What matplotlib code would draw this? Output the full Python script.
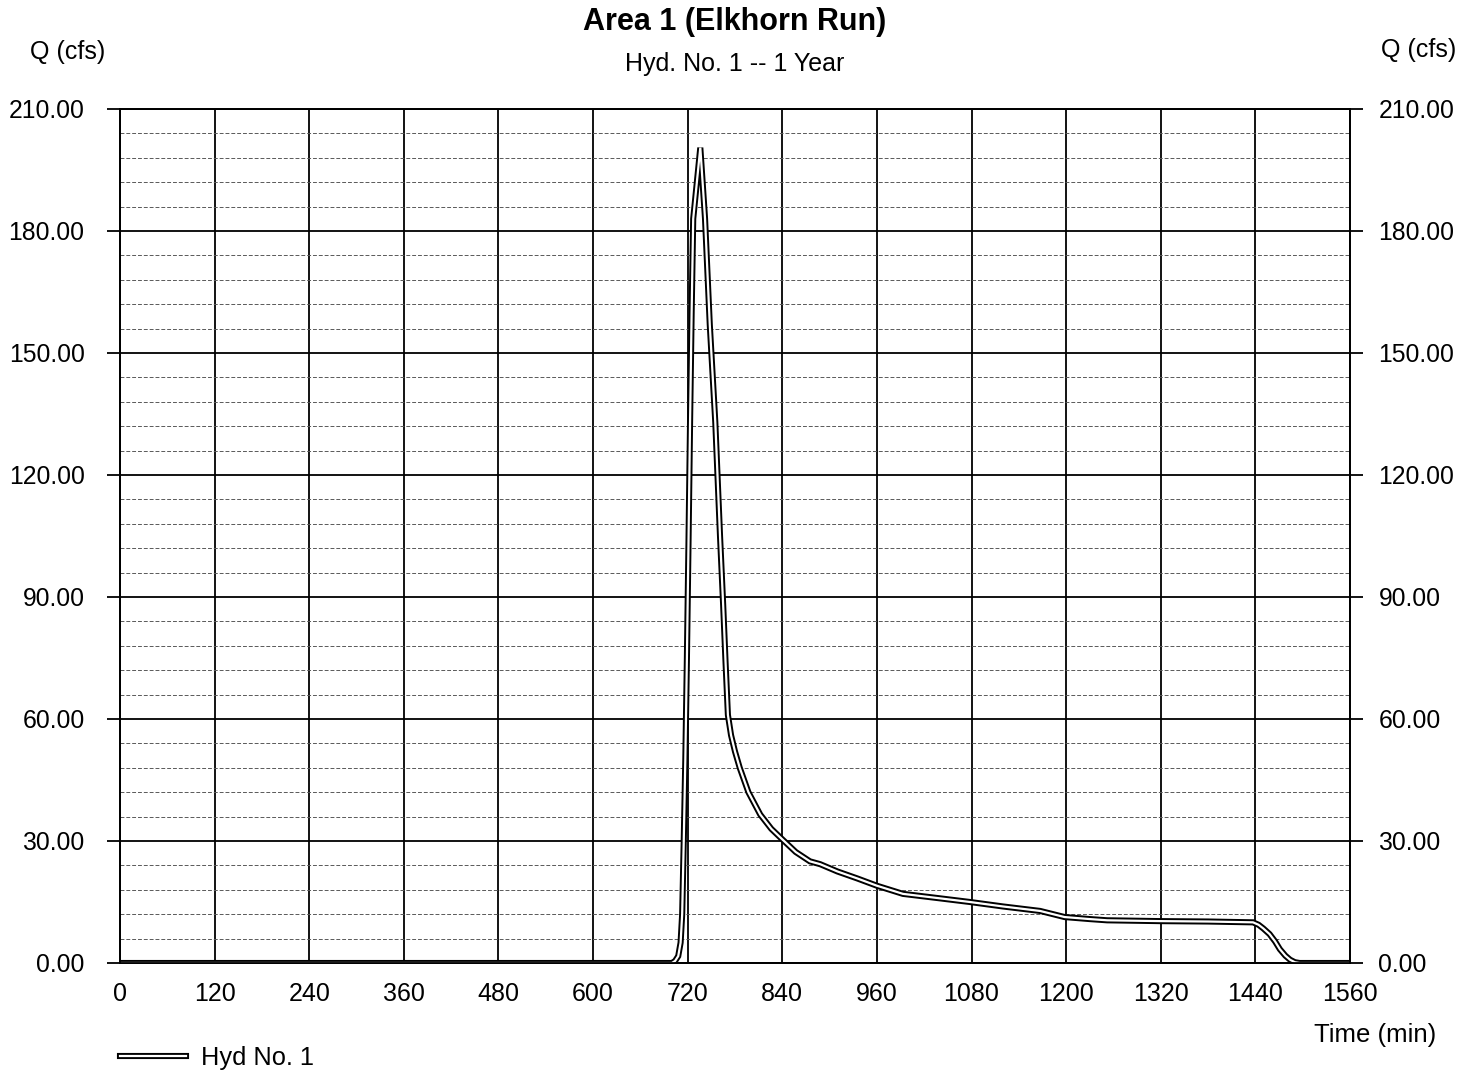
import numpy as np
import matplotlib.pyplot as plt
import matplotlib.patheffects as pe
from matplotlib.ticker import MultipleLocator

plt.rcParams['font.family'] = ['Liberation Sans', 'DejaVu Sans']

# hydrograph (time in min, Q in cfs)
time_min = [0, 700, 704, 708, 711, 713, 715, 717, 719, 721, 723, 725, 727, 736,
            742, 748, 755, 761, 765, 768, 771, 775, 780, 786, 797, 812, 826, 840,
            857, 875, 888, 910, 935, 960, 993, 1040, 1078, 1120, 1167, 1198, 1230, 1252,
            1319, 1380, 1437, 1444, 1450, 1458, 1465, 1471, 1478, 1484, 1490, 1496, 1560]
flow_cfs = [0, 0, 0.5, 1.7, 5, 12, 30, 50, 75, 103, 133, 160, 183, 200.5,
            183, 157, 133, 105, 88, 74, 61, 56, 52, 48, 42, 36.5, 33, 30.4,
            27.3, 25, 24.3, 22.5, 20.8, 19, 17, 15.9, 15, 13.9, 12.8, 11.3, 10.8, 10.5,
            10.3, 10.2, 10.0, 9.4, 8.5, 7.1, 5.3, 3.4, 1.8, 0.8, 0.2, 0, 0]

x_ticks = np.arange(0, 1561, 120)
y_ticks = np.arange(0, 211, 30)
y_labels = [f'{v:.2f}' for v in y_ticks]

fig = plt.figure(figsize=(14.72, 10.70), dpi=100)
ax = fig.add_axes([120 / 1472, 1 - 963 / 1070, 1230 / 1472, 854 / 1070])
ax.set_xlim(0, 1560)
ax.set_ylim(0, 210)
ax.set_xticks(x_ticks)
ax.set_yticks(y_ticks)
ax.set_yticklabels(y_labels)
ax.yaxis.set_minor_locator(MultipleLocator(6))

ax.grid(which='major', color='black', lw=1.3)
ax.grid(which='minor', axis='y', color='0.35', lw=0.7, ls=(0, (4, 2)))
ax.tick_params(axis='x', length=0, pad=14, labelsize=18)
ax.tick_params(axis='y', which='major', direction='out', length=9.5, width=1.3,
               pad=16, labelsize=17.8, color='black')
ax.tick_params(axis='y', which='minor', length=0)
for s in ax.spines.values():
    s.set_linewidth(1.3)

# right hand labels
ax2 = ax.twinx()
ax2.set_ylim(0, 210)
ax2.set_yticks(y_ticks)
ax2.set_yticklabels(y_labels)
ax2.tick_params(axis='y', direction='out', length=9.5, width=1.3, pad=11, labelsize=17.8)
for s in ax2.spines.values():
    s.set_linewidth(1.3)

ax.plot(time_min, flow_cfs, color='white', lw=1.6, solid_joinstyle='miter',
        path_effects=[pe.Stroke(linewidth=4.4, foreground='black', joinstyle='miter'),
                      pe.Normal()],
        label='Hyd No. 1', zorder=3)

fig.text(735 / 1472, 1 - 22 / 1070, 'Area 1 (Elkhorn Run)', ha='center', va='center',
         fontsize=22, fontweight='bold')
fig.text(735 / 1472, 1 - 64 / 1070, 'Hyd. No. 1 -- 1 Year', ha='center', va='center',
         fontsize=18)
fig.text(30 / 1472, 1 - 52 / 1070, 'Q (cfs)', ha='left', va='center', fontsize=18)
fig.text(1456 / 1472, 1 - 50 / 1070, 'Q (cfs)', ha='right', va='center', fontsize=18)
fig.text(1436 / 1472, 1 - 1035 / 1070, 'Time (min)', ha='right', va='center', fontsize=18.5)

fig.legend(loc='center left', bbox_to_anchor=(120 / 1472, 1 - 1058 / 1070),
           frameon=False, handlelength=2.6, handletextpad=0.6, fontsize=18.3,
           borderpad=0, borderaxespad=0)

fig.savefig('out.png', dpi=100, facecolor='white')
